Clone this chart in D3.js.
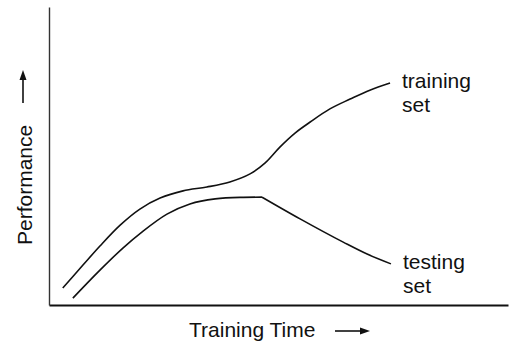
<!DOCTYPE html>
<html>
<head>
<meta charset="utf-8">
<script src="https://cdn.jsdelivr.net/npm/d3@7"></script>
<style>
  html, body { margin: 0; padding: 0; background: #fff; }
  svg { display: block; }
  text { font-family: "Liberation Sans", Arial, Helvetica, sans-serif; fill: #111; }
</style>
</head>
<body>
<script>
// Training time (0–100) against performance (0–100) for the two sets.
const trainingTime = [3.0, 7.4, 11.1, 15.5, 19.8, 24.2, 29.2, 34.4, 39.4, 43.8, 47.1, 50.3, 53.6, 56.9, 61.2, 65.6, 69.9, 74.3];
const trainingPerf = [5.7, 13.4, 19.8, 26.8, 32.2, 35.9, 38.3, 39.6, 41.3, 44.0, 47.7, 53.0, 57.7, 61.4, 65.8, 69.1, 72.1, 74.5];

const testingTime = [5.2, 11.1, 16.1, 20.5, 25.7, 30.7, 36.2, 41.6, 46.4, 54.7, 64.1, 69.3, 74.5];
const testingPerf = [2.3, 11.7, 19.1, 24.8, 30.5, 33.9, 35.6, 36.1, 36.2, 28.9, 21.1, 17.1, 13.8];

const seriesLabels = [["training", "set"], ["testing", "set"]];
const xTitle = "Training Time";
const yTitle = "Performance";

const W = 513, H = 342;
const svg = d3.select("body").append("svg").attr("width", W).attr("height", H);

const x = d3.scaleLinear().domain([0, 100]).range([49, 508]);
const y = d3.scaleLinear().domain([0, 100]).range([305, 7]);

// Bare axes: only the domain lines, no ticks.
svg.append("g")
  .attr("transform", `translate(0,${y(0)})`)
  .call(d3.axisBottom(x).tickValues([]).tickSizeOuter(0))
  .call(g => g.select(".domain").attr("stroke", "#111").attr("stroke-width", 1.8));

svg.append("g")
  .attr("transform", `translate(${x(0)},0)`)
  .call(d3.axisLeft(y).tickValues([]).tickSizeOuter(0))
  .call(g => g.select(".domain").attr("stroke", "#333").attr("stroke-width", 1.4));

const training = trainingTime.map((t, i) => [t, trainingPerf[i]]);
const testing = testingTime.map((t, i) => [t, testingPerf[i]]);

const smooth = d3.line()
  .x(d => x(d[0]))
  .y(d => y(d[1]))
  .curve(d3.curveCatmullRom.alpha(0.5));

const mono = d3.line()
  .x(d => x(d[0]))
  .y(d => y(d[1]))
  .curve(d3.curveMonotoneX);

// Testing curve: rise to its plateau, then a separate decline from the peak
const peak = d3.maxIndex(testingPerf.map((p, i) => p + i * 1e-6));
const testingRise = testing.slice(0, peak + 1);
const testingFall = testing.slice(peak);

const style = sel => sel.attr("fill", "none").attr("stroke", "#111").attr("stroke-width", 1.6);

svg.append("path").attr("d", smooth(training)).call(style);
svg.append("path").attr("d", mono(testingRise)).call(style);
svg.append("path").attr("d", mono(testingFall)).call(style);

// End labels beside each curve
const labelAnchors = [training[training.length - 1], testing[testing.length - 1]];
seriesLabels.forEach((lines, i) => {
  const [t, p] = labelAnchors[i];
  const tx = svg.append("text")
    .attr("x", x(t) + 12)
    .attr("y", y(p) + 5)
    .style("font-size", "21px");
  lines.forEach((s, j) => {
    tx.append("tspan").attr("x", x(t) + 12).attr("dy", j === 0 ? 0 : 24).text(s);
  });
});

// Axis titles with arrows
svg.append("text")
  .attr("x", 189).attr("y", 337)
  .style("font-size", "21px")
  .text(xTitle);

svg.append("text")
  .attr("transform", "translate(32,245) rotate(-90)")
  .style("font-size", "21px")
  .text(yTitle);

function arrow(x1, y1, x2, y2) {
  const ang = Math.atan2(y2 - y1, x2 - x1);
  const len = 10, half = 3.5;
  const bx = x2 - len * Math.cos(ang), by = y2 - len * Math.sin(ang);
  svg.append("line")
    .attr("x1", x1).attr("y1", y1).attr("x2", bx).attr("y2", by)
    .attr("stroke", "#111").attr("stroke-width", 1.6);
  const px = -Math.sin(ang) * half, py = Math.cos(ang) * half;
  svg.append("path")
    .attr("d", `M${x2},${y2}L${bx + px},${by + py}L${bx - px},${by - py}Z`)
    .attr("fill", "#111");
}
arrow(335, 331, 370, 331);
arrow(23, 103, 23, 70);
</script>
</body>
</html>
